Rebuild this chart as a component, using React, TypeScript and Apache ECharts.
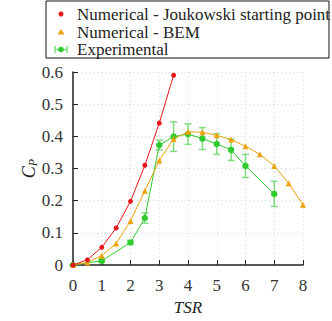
import React, { useEffect, useRef } from "react";
import * as echarts from "echarts";

const tsrJouk = [0, 0.5, 1, 1.5, 2, 2.5, 3, 3.5];
const cpJouk = [0, 0.016, 0.055, 0.115, 0.198, 0.31, 0.441, 0.59];

const tsrBem = [0, 0.5, 1, 1.5, 2, 2.5, 3, 3.5, 4, 4.5, 5, 5.5, 6, 6.5, 7, 7.5, 8];
const cpBem = [0, 0.008, 0.029, 0.067, 0.137, 0.231, 0.325, 0.392, 0.414, 0.413, 0.403, 0.39, 0.369, 0.344, 0.308, 0.254, 0.187];

const tsrExp = [0, 1, 2, 2.5, 3, 3.5, 4, 4.5, 5, 5.5, 6, 7];
const cpExp = [0, 0.013, 0.07, 0.146, 0.373, 0.399, 0.407, 0.393, 0.376, 0.358, 0.308, 0.221];
const cpExpErr = [0, 0.004, 0.006, 0.016, 0.015, 0.046, 0.032, 0.034, 0.032, 0.033, 0.036, 0.039];

const legendLabels = ["Numerical - Joukowski starting point", "Numerical - BEM", "Experimental"];

const RED = "#e8161b";
const ORANGE = "#eda20c";
const GREEN = "#2fcb2f";
const GREEN_ERR = "#7edc7e";
const FONT = "Liberation Serif, Times New Roman, DejaVu Serif, serif";

export default function App() {
  const ref = useRef<HTMLDivElement>(null);
  useEffect(() => {
    if (!ref.current) return;
    const chart = echarts.init(ref.current, null, { renderer: "svg" });
    const errData = tsrExp.map((x, i) => [x, cpExp[i] - cpExpErr[i], cpExp[i] + cpExpErr[i]]);
    const legendY = [14, 32, 49.5];
    chart.setOption({
      animation: false,
      backgroundColor: "#ffffff",
      textStyle: { fontFamily: FONT },
      grid: { left: 73, right: 29, top: 72, bottom: 50 },
      xAxis: {
        type: "value",
        min: 0,
        max: 8,
        interval: 1,
        name: "TSR",
        nameLocation: "middle",
        nameGap: 34,
        nameMoveOverlap: false,
        nameTextStyle: { fontFamily: FONT, fontSize: 17, fontStyle: "italic", color: "#222" },
        axisLine: { show: true, lineStyle: { color: "#222", width: 1.5 } },
        axisTick: { show: true, inside: true, length: 5, lineStyle: { color: "#222", width: 1 } },
        axisLabel: { fontFamily: FONT, fontSize: 17, color: "#333", margin: 12 },
        splitLine: { show: true, lineStyle: { color: "#d6d6d6", type: [1, 3], width: 1 } },
      },
      yAxis: {
        type: "value",
        min: 0,
        max: 0.6,
        interval: 0.1,
        name: "{c|C}{p|P}",
        nameLocation: "middle",
        nameGap: 34,
        nameMoveOverlap: false,
        nameRotate: 90,
        nameTextStyle: {
          fontFamily: FONT,
          rich: {
            c: { fontFamily: FONT, fontSize: 18, fontStyle: "italic", color: "#222", lineHeight: 20 },
            p: { fontFamily: FONT, fontSize: 12, fontStyle: "italic", color: "#222", lineHeight: 20, verticalAlign: "bottom", padding: [6, 0, 0, 0] },
          },
        },
        axisLine: { show: true, lineStyle: { color: "#222", width: 1.5 } },
        axisTick: { show: true, inside: true, length: 5, lineStyle: { color: "#222", width: 1 } },
        axisLabel: { fontFamily: FONT, fontSize: 17, color: "#333", margin: 10 },
        splitLine: { show: true, lineStyle: { color: "#d6d6d6", type: [1, 3], width: 1 } },
      },
      graphic: [
        { type: "rect", shape: { x: 46, y: 1, width: 283, height: 57 }, style: { fill: "#fff", stroke: "#111", lineWidth: 1 }, z: 100 },
        ...legendLabels.map((t, i) => ({
          type: "text",
          x: 77,
          y: legendY[i],
          z: 101,
          style: { text: t, fontFamily: FONT, fontSize: 17, fill: "#222", verticalAlign: "middle" },
        })),
        { type: "circle", shape: { cx: 61, cy: legendY[0], r: 2.5 }, style: { fill: RED }, z: 101 },
        { type: "polygon", shape: { points: [[61, legendY[1] - 3], [64.5, legendY[1] + 2.5], [57.5, legendY[1] + 2.5]] }, style: { fill: ORANGE }, z: 101 },
        { type: "line", shape: { x1: 55, y1: legendY[2], x2: 67, y2: legendY[2] }, style: { stroke: GREEN_ERR, lineWidth: 1.5 }, z: 101 },
        { type: "line", shape: { x1: 55, y1: legendY[2] - 3.5, x2: 55, y2: legendY[2] + 3.5 }, style: { stroke: GREEN_ERR, lineWidth: 1.5 }, z: 101 },
        { type: "line", shape: { x1: 67, y1: legendY[2] - 3.5, x2: 67, y2: legendY[2] + 3.5 }, style: { stroke: GREEN_ERR, lineWidth: 1.5 }, z: 101 },
        { type: "circle", shape: { cx: 61, cy: legendY[2], r: 2.8 }, style: { fill: GREEN }, z: 102 },
      ],
      series: [
        {
          name: legendLabels[2] + " error",
          type: "custom",
          z: 3,
          data: errData,
          renderItem: (params: any, api: any) => {
            const x = api.value(0);
            const lo = api.coord([x, api.value(1)]);
            const hi = api.coord([x, api.value(2)]);
            const hw = 3.5;
            const st = { stroke: GREEN_ERR, lineWidth: 1.5 };
            return {
              type: "group",
              children: [
                { type: "line", shape: { x1: lo[0], y1: lo[1], x2: hi[0], y2: hi[1] }, style: st },
                { type: "line", shape: { x1: lo[0] - hw, y1: lo[1], x2: lo[0] + hw, y2: lo[1] }, style: st },
                { type: "line", shape: { x1: hi[0] - hw, y1: hi[1], x2: hi[0] + hw, y2: hi[1] }, style: st },
              ],
            };
          },
        },
        {
          name: legendLabels[2],
          type: "line",
          z: 4,
          data: tsrExp.map((x, i) => [x, cpExp[i]]),
          symbol: "circle",
          symbolSize: 6.5,
          lineStyle: { color: GREEN, width: 1 },
          itemStyle: { color: GREEN },
        },
        {
          name: legendLabels[1],
          type: "line",
          z: 5,
          data: tsrBem.map((x, i) => [x, cpBem[i]]),
          symbol: "triangle",
          symbolSize: 6,
          lineStyle: { color: ORANGE, width: 1 },
          itemStyle: { color: ORANGE },
        },
        {
          name: legendLabels[0],
          type: "line",
          z: 6,
          data: tsrJouk.map((x, i) => [x, cpJouk[i]]),
          symbol: "circle",
          symbolSize: 5,
          lineStyle: { color: RED, width: 1 },
          itemStyle: { color: RED },
        },
      ],
    });
    return () => chart.dispose();
  }, []);
  return <div ref={ref} style={{ position: "fixed", left: 0, top: 0, width: 332, height: 321 }} />;
}
